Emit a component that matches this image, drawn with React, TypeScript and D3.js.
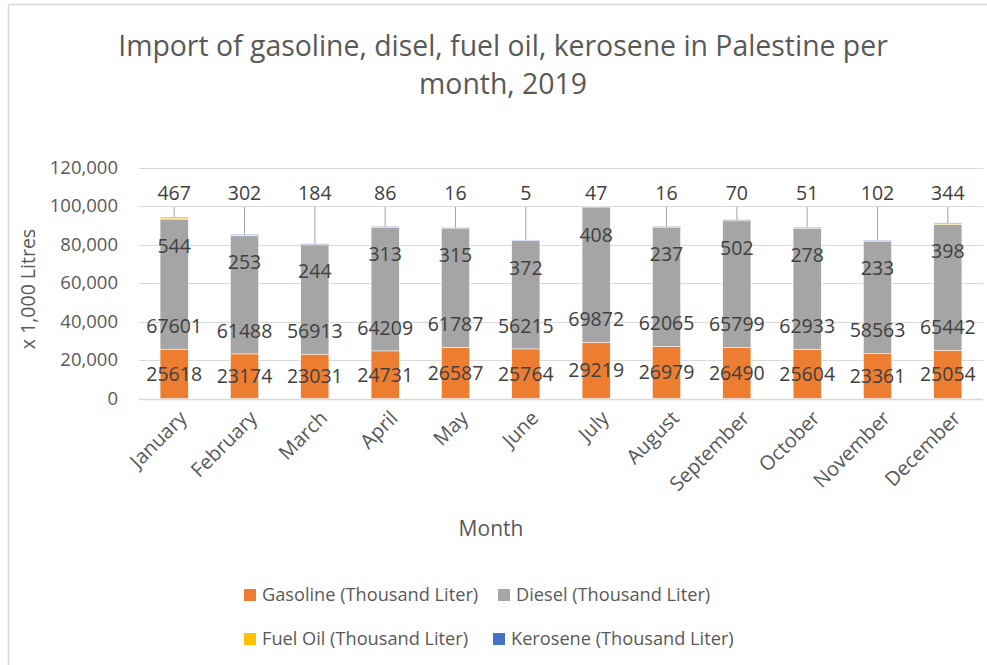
import React from "react";
import * as d3 from "d3";

const months = [
  "January", "February", "March", "April", "May", "June",
  "July", "August", "September", "October", "November", "December",
];
const gasoline = [25618, 23174, 23031, 24731, 26587, 25764, 29219, 26979, 26490, 25604, 23361, 25054];
const diesel = [67601, 61488, 56913, 64209, 61787, 56215, 69872, 62065, 65799, 62933, 58563, 65442];
const fuelOil = [544, 253, 244, 313, 315, 372, 408, 237, 502, 278, 233, 398];
const kerosene = [467, 302, 184, 86, 16, 5, 47, 16, 70, 51, 102, 344];
const yTicks = [0, 20000, 40000, 60000, 80000, 100000, 120000];

const seriesNames = [
  "Gasoline (Thousand Liter)",
  "Diesel (Thousand Liter)",
  "Fuel Oil (Thousand Liter)",
  "Kerosene (Thousand Liter)",
];
const colors = ["#ED7D31", "#A5A5A5", "#FFC000", "#4472C4"];

const W = 987;
const H = 665;
const font = "'Open Sans', sans-serif";

export default function App() {
  const margin = { left: 139, right: 4, top: 167.5, bottom: 266.5 };

  const rows = months.map((m, i) => ({
    month: m,
    gas: gasoline[i],
    diesel: diesel[i],
    fuel: fuelOil[i],
    kero: kerosene[i],
  }));
  const keys = ["gas", "diesel", "fuel", "kero"];
  const stacked = d3.stack<any>().keys(keys)(rows);

  const x = d3
    .scaleBand()
    .domain(months)
    .range([margin.left, W - margin.right])
    .paddingInner(0.6)
    .paddingOuter(0.3);
  const y = d3
    .scaleLinear()
    .domain([0, 120000])
    .range([H - margin.bottom, margin.top]);

  const fmt = d3.format(",");
  const bw = x.bandwidth();
  const cx = (m: string) => (x(m) as number) + bw / 2;

  // legend: two rows, second item follows the first one's text
  const legendPos = [
    [244, 595],
    [498, 595],
    [244, 639],
    [493, 639],
  ];

  return (
    <svg width={W} height={H} style={{ position: "absolute", left: 0, top: 0 }} fontFamily={font}>
      <rect x={0} y={0} width={W} height={H} fill="#fff" />
      {/* chart area border */}
      <line x1={8.5} y1={4.5} x2={W} y2={4.5} stroke="#D9D9D9" strokeWidth={1.5} />
      <line x1={8.5} y1={4.5} x2={8.5} y2={H} stroke="#D9D9D9" strokeWidth={1.5} />

      {/* title */}
      <text x={503} y={56} textAnchor="middle" fontSize={28.4} fill="#595959">
        Import of gasoline, disel, fuel oil, kerosene in Palestine per
      </text>
      <text x={503} y={94} textAnchor="middle" fontSize={28.4} fill="#595959">
        month, 2019
      </text>

      {/* gridlines + y ticks */}
      {yTicks.map((t) => (
        <g key={t}>
          <line
            x1={margin.left}
            x2={W - margin.right}
            y1={Math.round(y(t)) + 0.5}
            y2={Math.round(y(t)) + 0.5}
            stroke="#D9D9D9"
            strokeWidth={t === 0 ? 1.5 : 1}
          />
          <text x={118} y={y(t)} dy="0.35em" textAnchor="end" fontSize={18.5} fill="#595959">
            {fmt(t)}
          </text>
        </g>
      ))}

      <text
        transform={`translate(35,${(y(0) + y(120000)) / 2 + 6}) rotate(-90)`}
        textAnchor="middle"
        fontSize={19.5}
        fill="#595959"
      >
        x 1,000 Litres
      </text>

      {/* bars */}
      {stacked.map((s, si) => (
        <g key={s.key} fill={colors[si]}>
          {s.map((d, i) => (
            <rect
              key={i}
              x={x(months[i])}
              y={y(d[1])}
              width={bw}
              height={Math.max(y(d[0]) - y(d[1]), 0.8)}
              stroke="#fff"
              strokeWidth={0.5}
            />
          ))}
        </g>
      ))}

      {/* data labels */}
      {rows.map((r, i) => {
        const c = cx(r.month);
        const top = y(r.gas + r.diesel + r.fuel + r.kero);
        const keroY = 193;
        return (
          <g key={r.month} fontSize={19.5} fill="#404040" textAnchor="middle">
            <text x={c} y={y(r.gas / 2)} dy="0.35em">{r.gas}</text>
            <text x={c} y={y(r.gas) - 23} dy="0.35em">{r.diesel}</text>
            <text x={c} y={y(r.gas + r.diesel) + 27} dy="0.35em">{r.fuel}</text>
            <text x={c} y={keroY} dy="0.35em">{r.kero}</text>
            {top - keroY > 20 && (
              <line x1={c} x2={c} y1={keroY + 14} y2={top} stroke="#A5A5A5" strokeWidth={1} />
            )}
          </g>
        );
      })}

      {/* x labels */}
      {months.map((m) => (
        <text
          key={m}
          transform={`translate(${cx(m) + 4},${y(0) + 11}) rotate(-45)`}
          textAnchor="end"
          dy="0.7em"
          fontSize={20}
          fill="#595959"
        >
          {m}
        </text>
      ))}

      <text x={491} y={536} textAnchor="middle" fontSize={21} fill="#595959">
        Month
      </text>

      {/* legend */}
      {seriesNames.map((n, i) => {
        const [lx, ly] = legendPos[i];
        return (
          <g key={n}>
            <rect x={lx} y={ly - 6} width={12} height={12} fill={colors[i]} />
            <text x={lx + 18} y={ly} dy="0.35em" fontSize={18.2} fill="#595959">
              {n}
            </text>
          </g>
        );
      })}
    </svg>
  );
}
